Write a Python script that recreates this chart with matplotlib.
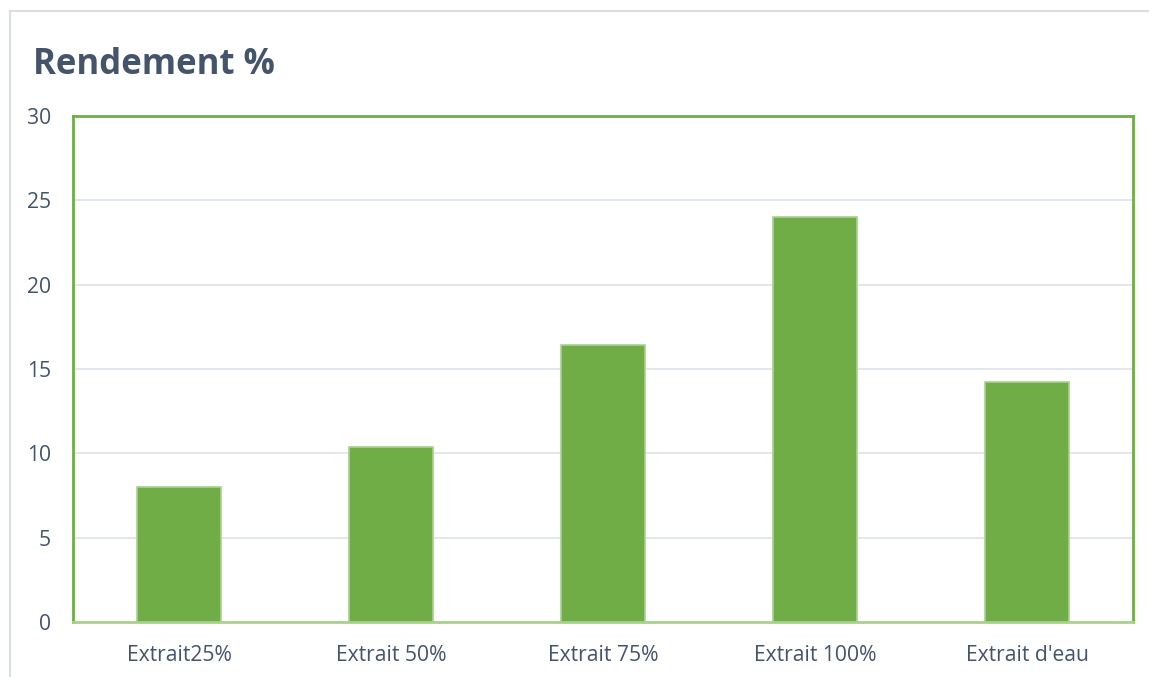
import matplotlib
matplotlib.use("Agg")
import matplotlib.pyplot as plt
from matplotlib.patches import Rectangle

categories = ["Extrait25%", "Extrait 50%", "Extrait 75%", "Extrait 100%", "Extrait d'eau"]
values = [8.0, 10.4, 16.4, 24.0, 14.2]
yticks = [0, 5, 10, 15, 20, 25, 30]

plt.rcParams['font.family'] = ['Open Sans', 'DejaVu Sans']
W, H = 1149, 677
fig = plt.figure(figsize=(W / 100, H / 100), dpi=100)
fig.patch.set_facecolor("white")

# outer chart border
fig.patches.append(Rectangle((10 / W, -0.1), 1.2, (H - 11) / H + 0.1, transform=fig.transFigure,
                             fill=False, edgecolor="#D9DEE6", linewidth=1.5))

ax = fig.add_axes([73 / W, (H - 622) / H, 1060 / W, 506 / H])
x = range(len(categories))
ax.bar(x, values, width=0.4, color="#70AD47", edgecolor="#A9D18E", linewidth=1.2, zorder=3)
ax.set_xlim(-0.5, len(categories) - 0.5)
ax.set_ylim(0, 30)
ax.set_yticks(yticks)
ax.set_xticks(list(x))
ax.set_xticklabels(categories)
ax.yaxis.grid(True, color="#DDE1EA", linewidth=1.2, zorder=0)
ax.tick_params(axis="both", length=0, labelsize=15.2, colors="#44546A")
ax.tick_params(axis="x", pad=16.5)
ax.tick_params(axis="y", pad=16)
for s in ["left", "top", "right"]:
    ax.spines[s].set_color("#70AD47")
    ax.spines[s].set_linewidth(2)
ax.spines["bottom"].set_color("#A9D18E")
ax.spines["bottom"].set_linewidth(2)

fig.text(33 / W, 1 - 65 / H, "Rendement %", fontsize=25, fontweight="bold",
         color="#44546A", ha="left", va="center")

fig.savefig("out.png", dpi=100)
